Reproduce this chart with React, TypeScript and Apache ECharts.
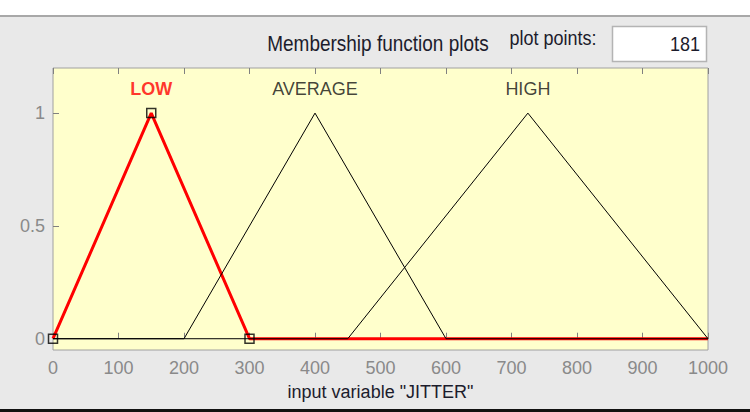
import React, { useEffect, useRef } from "react";
import * as echarts from "echarts";

const xTicks = [0, 100, 200, 300, 400, 500, 600, 700, 800, 900, 1000];
const yTicks = [0, 0.5, 1];
const mfNames = ["LOW", "AVERAGE", "HIGH"];
const lowPoints = [[0, 0], [150, 1], [300, 0], [1000, 0]];
const averagePoints = [[0, 0], [200, 0], [400, 1], [600, 0], [1000, 0]];
const highPoints = [[0, 0], [450, 0], [725, 1], [1000, 0]];
const lowVertices = [[0, 0], [150, 1], [300, 0]];
const mfPeaks = [150, 400, 725];
const plotPoints = "181";
const FONT = "'Liberation Sans', Arial, sans-serif";

export default function App() {
  const ref = useRef<HTMLDivElement>(null);
  useEffect(() => {
    document.body.style.margin = "0";
    const chart = echarts.init(ref.current!, null, { renderer: "svg" });
    const labelY = 1.107;
    chart.setOption({
      animation: false,
      backgroundColor: "#e9e9e9",
      textStyle: { fontFamily: FONT },
      graphic: [
        { type: "rect", shape: { x: 0, y: 0, width: 750, height: 15 }, style: { fill: "#ffffff" }, z: -10 },
        { type: "rect", shape: { x: 0, y: 15, width: 750, height: 2 }, style: { fill: "#a8a8a8" }, z: -10 },
        { type: "rect", shape: { x: 0, y: 409, width: 750, height: 3 }, style: { fill: "#111111" }, z: -10 },
        {
          type: "text", x: 378, y: 44, scaleY: 1.12, originX: 0, originY: 0,
          style: { text: "Membership function plots", fill: "#1c1c2c", font: `19px ${FONT}`, textAlign: "center", textVerticalAlign: "middle" },
        },
        {
          type: "text", x: 553, y: 38, scaleY: 1.12, originX: 0, originY: 0,
          style: { text: "plot points:", fill: "#1c1c2c", font: `18px ${FONT}`, textAlign: "center", textVerticalAlign: "middle" },
        },
        {
          type: "rect", shape: { x: 612.5, y: 26.5, width: 94, height: 35 },
          style: { fill: "#ffffff", stroke: "#b4b4b4", lineWidth: 1.5 },
        },
        {
          type: "text", x: 700, y: 44, scaleY: 1.12, originX: 0, originY: 0,
          style: { text: plotPoints, fill: "#1c1c2c", font: `18px ${FONT}`, textAlign: "right", textVerticalAlign: "middle" },
        },
      ],
      grid: {
        left: 53, right: 42, top: 68, bottom: 62,
        show: true, backgroundColor: "#ffffcc", borderColor: "#a0a0a0", borderWidth: 1,
      },
      xAxis: [
        {
          type: "value", min: 0, max: 1000, interval: 100, position: "bottom",
          name: 'input variable "JITTER"', nameLocation: "middle", nameGap: 33,
          nameTextStyle: { color: "#1c1c2c", fontSize: 18, fontFamily: FONT },
          axisLine: { show: false },
          axisTick: { show: true, inside: true, length: 6, lineStyle: { color: "#808080" } },
          axisLabel: { color: "#8a8a8a", fontSize: 18, margin: 9, fontFamily: FONT, formatter: (v: number) => String(v) },
          splitLine: { show: false },
        },
        {
          type: "value", min: 0, max: 1000, interval: 100, position: "top",
          axisLine: { show: false },
          axisTick: { show: true, inside: true, length: 6, lineStyle: { color: "#808080" } },
          axisLabel: { show: false },
          splitLine: { show: false },
        },
      ],
      yAxis: {
        type: "value", min: -0.05, max: 1.2,
        axisLine: { show: false },
        axisTick: { show: true, inside: true, length: 6, customValues: yTicks, lineStyle: { color: "#808080" } },
        axisLabel: { color: "#8a8a8a", fontSize: 18, margin: 8, customValues: yTicks, fontFamily: FONT },
        splitLine: { show: false },
      },
      series: [
        {
          type: "line", data: lowPoints, showSymbol: false, z: 2,
          lineStyle: { color: "#ff0000", width: 3 },
        },
        {
          type: "line", data: averagePoints, showSymbol: false, z: 3,
          lineStyle: { color: "#000000", width: 1 },
        },
        {
          type: "line", data: highPoints, showSymbol: false, z: 3,
          lineStyle: { color: "#000000", width: 1 },
        },
        {
          type: "scatter", data: lowVertices, symbol: "rect", symbolSize: 9, z: 5,
          itemStyle: { color: "rgba(0,0,0,0)", borderColor: "#000000", borderWidth: 1.5 },
        },
        {
          type: "scatter", symbolSize: 0, z: 6, silent: true,
          data: mfNames.map((n, i) => ({
            value: [mfPeaks[i], labelY], name: n,
            label: {
              show: true, position: "inside", formatter: n, fontSize: 18, fontFamily: FONT,
              color: i === 0 ? "#ff0000" : "#111111", fontWeight: i === 0 ? "bold" : "normal",
            },
          })),
        },
      ],
    });
    return () => chart.dispose();
  }, []);
  return <div ref={ref} style={{ position: "absolute", left: 0, top: 0, width: 750, height: 412 }} />;
}
